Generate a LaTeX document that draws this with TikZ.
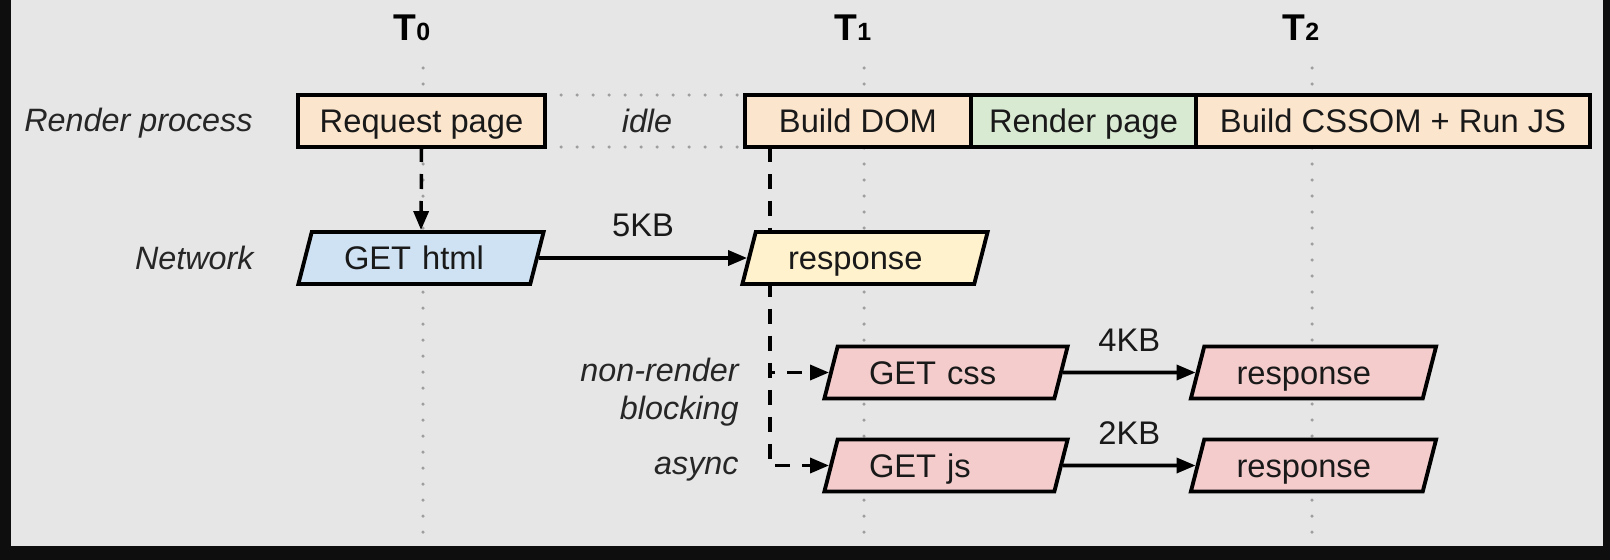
\documentclass[tikz,border=0pt]{standalone}
\usepackage{fontspec}
\setmainfont{Liberation Sans}
\usetikzlibrary{shapes.geometric, arrows.meta, positioning, backgrounds}
\definecolor{bgGrey}{HTML}{E6E6E6}
\definecolor{frameDark}{HTML}{0E0E0E}
\definecolor{taskOrange}{HTML}{FCE5CD}
\definecolor{taskGreen}{HTML}{D9EAD3}
\definecolor{netBlue}{HTML}{CFE2F3}
\definecolor{netYellow}{HTML}{FFF2CC}
\definecolor{netPink}{HTML}{F4CCCC}
\definecolor{dotGrey}{HTML}{9E9E9E}
\newcommand{\tmark}[1]{{\fontsize{10.6}{12}\selectfont\bfseries T}{\fontsize{7.1}{8}\selectfont\bfseries #1}}

\begin{document}
\begin{tikzpicture}[
    task/.style={rectangle, draw=black, line width=1.1pt, minimum height=0.52cm, outer sep=0pt, text height=6.7pt, text depth=0pt, text=black!90, font=\fontsize{9.3}{11}\selectfont},
    packet/.style={trapezium, trapezium left angle=77, trapezium right angle=103, trapezium stretches=true, draw=black, line width=1.1pt, minimum height=0.52cm, minimum width=2.46cm, text width=1.54cm, align=left, text height=6.7pt, text depth=0pt, text=black!90, font=\fontsize{9.3}{11}\selectfont},
    rowlabel/.style={font=\fontsize{9.2}{10.8}\selectfont\itshape, text=black!85, align=right, anchor=east, text height=6.6pt, text depth=0pt},
    timeline/.style={dotGrey, line width=0.035cm, line cap=round, dash pattern=on 0pt off 0.16cm},
    call/.style={line width=1pt, dash pattern=on 0.15cm off 0.12cm, -{Triangle[length=0.19cm, width=0.15cm]}},
    flow/.style={line width=1pt, -{Triangle[length=0.19cm, width=0.15cm]}},
    kb/.style={font=\fontsize{9.3}{11}\selectfont, text=black!90, above=0.08cm}
]
    \useasboundingbox (0,0) rectangle (16.10,-5.60);

    % Time marks
    \node[anchor=base] (t0) at (4.12,-0.40) {\tmark{0}};
    \node[anchor=base] (t1) at (8.53,-0.40) {\tmark{1}};
    \node[anchor=base] (t2) at (13.01,-0.40) {\tmark{2}};

    % Render process row
    \node[rowlabel] (lblrender) at (2.65,-1.20) {Render process};
    \node[task, fill=taskOrange, minimum width=2.47cm] (req) at (4.215,-1.21) {Request page};
    \node[rowlabel, anchor=center] (idle) at (6.47,-1.21) {idle};
    \node[task, fill=taskOrange, minimum width=2.26cm] (dom) at (8.58,-1.21) {Build DOM};
    \node[task, fill=taskGreen, minimum width=2.25cm, right=0pt of dom] (render) {Render page};
    \node[task, fill=taskOrange, minimum width=3.94cm, right=0pt of render] (cssom) {Build CSSOM + Run JS};

    % Network row
    \node[rowlabel] (lblnet) at (2.66,-2.58) {Network};
    \node[packet, fill=netBlue] (gethtml) at (4.21,-2.58) {GET html};
    \node[packet, fill=netYellow] (resp) at (8.65,-2.58) {response};

    % Sub-resources
    \node[rowlabel] (lblnonrender) at (7.51,-4.08) {non-render\\blocking};
    \node[rowlabel] (lblasync) at (7.51,-4.63) {async};
    \node[packet, fill=netPink, minimum width=2.44cm] (getcss) at (9.46,-3.725) {GET css};
    \node[packet, fill=netPink] (respcss) at (13.135,-3.725) {response};
    \node[packet, fill=netPink, minimum width=2.44cm] (getjs) at (9.46,-4.655) {GET js};
    \node[packet, fill=netPink] (respjs) at (13.135,-4.655) {response};

    \coordinate (split) at ([xshift=0.25cm]dom.south west);

    \begin{scope}[on background layer]
        \fill[frameDark] (0,0) rectangle (16.10,-5.60);
        \fill[bgGrey] (0.11,0) rectangle (16.03,-5.46);
        % time lines
        \draw[timeline] (4.23,-0.68) -- (4.23,-5.33);
        \draw[timeline] (8.64,-0.68) -- (8.64,-5.33);
        \draw[timeline] (13.12,-0.68) -- (13.12,-5.33);
        % idle band
        \draw[timeline] (req.north east) -- (dom.north west);
        \draw[timeline] (req.south east) -- (dom.south west);
        % requests
        \draw[call] (req.south) -- (gethtml.north);
        \draw[call] (split) |- (getcss.west);
        \draw[call] (split) |- (getjs.west);
    \end{scope}

    \draw[flow] (gethtml.east) -- node[kb] {5KB} (resp.west);
    \draw[flow] (getcss.east) -- node[kb] {4KB} (respcss.west);
    \draw[flow] (getjs.east) -- node[kb] {2KB} (respjs.west);
\end{tikzpicture}
\end{document}
